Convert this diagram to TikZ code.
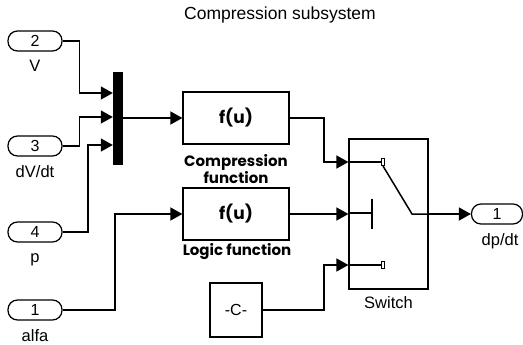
\documentclass[tikz,border=0pt]{standalone}
\usepackage{fontspec}
\setmainfont{Liberation Sans}
\newfontfamily\popfont{Poppins}
\usetikzlibrary{arrows.meta,calc}
\begin{document}
\begin{tikzpicture}[x=1pt,y=-1pt,
  port/.style={draw,line width=1.2pt,rounded corners=9.5pt,minimum width=54pt,minimum height=20pt,inner sep=0pt,font=\fontsize{16}{18}\selectfont},
  fbox/.style={draw,line width=1.2pt,minimum width=106pt,minimum height=52pt,inner sep=0pt,font=\popfont\bfseries\fontsize{17}{18}\selectfont},
  lbl/.style={font=\fontsize{16.5}{19}\selectfont,inner sep=0pt},
  blbl/.style={font=\popfont\bfseries\fontsize{15}{16}\selectfont,inner sep=0pt,align=center},
  wire/.style={line width=1.5pt},
  arr/.style={wire,-{Triangle[length=12pt,width=13pt]}},
  contact/.style={draw,line width=1pt,minimum width=3pt,minimum height=7pt,inner sep=0pt}]
\useasboundingbox (0,0) rectangle (523,345);
\node[font=\fontsize{17.5}{19}\selectfont,inner sep=0pt] (title) at (280,15) {Compression subsystem};
% inports
\node[port] (in2) at (35,41) {2};
\node[lbl] (lV) at (35,66) {V};
\node[port] (in3) at (35,146) {3};
\node[lbl] (ldV) at (35,172) {dV/dt};
\node[port] (in4) at (35,232) {4};
\node[lbl] (lp) at (35,260) {p};
\node[port] (in1) at (35,310) {1};
\node[lbl] (lalfa) at (35,336) {alfa};
% mux
\node[fill=black,minimum width=10pt,minimum height=93pt,inner sep=0pt] (mux) at (118,118.5) {};
% function blocks
\node[fbox] (cf) at (236,118) {f(u)};
\node[blbl] (lcf) at (236,169) {Compression\\function};
\node[fbox] (lf) at (236,214) {f(u)};
\node[blbl] (llf) at (237,252) {Logic function};
% constant
\node[draw,line width=1.2pt,minimum width=52pt,minimum height=54pt,inner sep=0pt,font=\fontsize{16}{18}\selectfont] (const) at (236,310) {-C-};
% switch
\node[draw,line width=1.2pt,minimum width=79pt,minimum height=150pt,inner sep=0pt] (sw) at (388.5,214) {};
\node[lbl] (lsw) at (388.5,303) {Switch};
% outport
\node[port,minimum width=51pt] (out1) at (497,214) {1};
\node[lbl] (ldp) at (500,241) {dp/dt};
% switch internals
\node[contact] (c1) at (383,162) {};
\node[contact] (c3) at (383,265) {};
\coordinate (pivot) at (412,214);
\draw[wire] (sw.west |- c1) -- (c1.west);
\draw[wire] (sw.west |- c3) -- (c3.west);
\draw[wire] (c1.south) -- (pivot) -- (sw.east |- pivot);
\draw[wire] (sw.west |- 0,213) -- (372,213);
\draw[wire] (372,199) -- (372,229);
% wires
\draw[arr] (in2.east) -- ++(17,0) |- (mux.west |- 0,93);
\draw[arr] (in3.east) -- ++(17,0) |- (mux.west |- 0,117);
\draw[arr] (in4.east) -| (88,145) -- (mux.west |- 0,145);
\draw[arr] (mux.east |- cf.west) -- (cf.west);
\draw[arr] (in1.east) -| (115,214) -- (lf.west);
\draw[arr] (cf.east) -| (324,162) -- (sw.west |- c1);
\draw[arr] (lf.east) -- (sw.west |- 0,214);
\draw[arr] (const.east) -| (324,265) -- (sw.west |- c3);
\draw[arr] (sw.east |- pivot) -- (out1.west);
\end{tikzpicture}
\end{document}
